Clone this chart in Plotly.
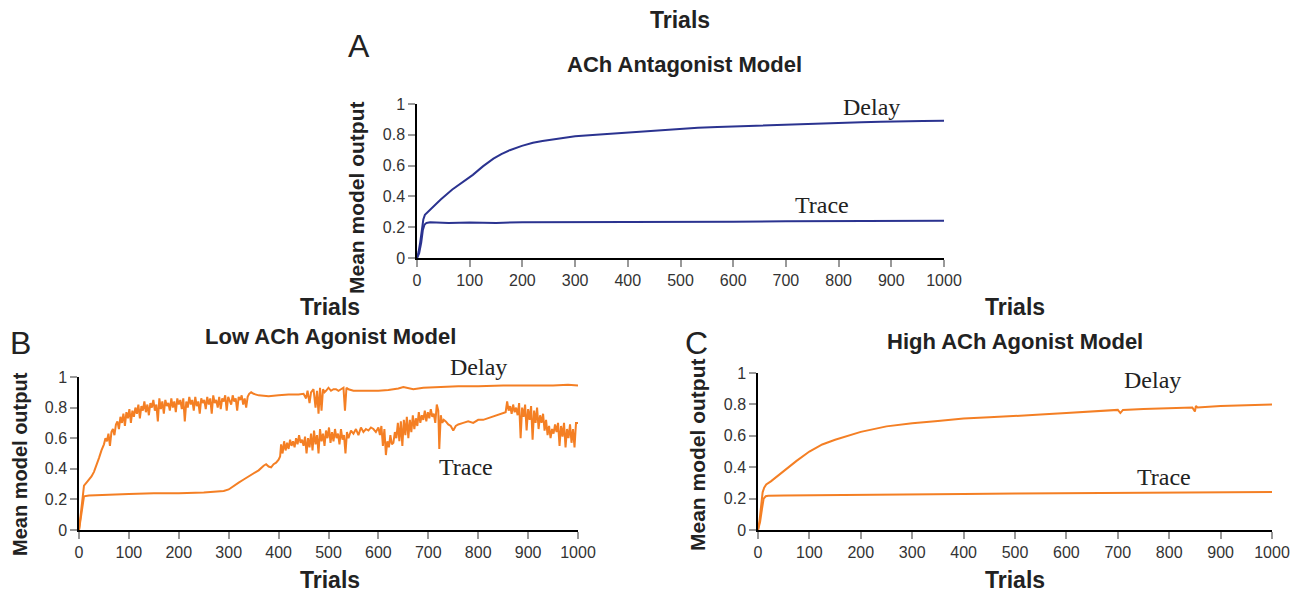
import plotly.graph_objects as go

W, H = 1300, 592
OFF = 8  # page body margin that shifts the figure inside the browser window

# ---------------- Data ----------------
ticks_x = [0, 100, 200, 300, 400, 500, 600, 700, 800, 900, 1000]
ticks_y = [0, 0.2, 0.4, 0.6, 0.8, 1]
tick_y_text = ["0", "0.2", "0.4", "0.6", "0.8", "1"]

# Panel A: ACh Antagonist Model
a_delay_x = [0, 3, 6, 9, 12, 15, 21, 30, 45, 67, 85, 106, 125, 145, 160, 176, 199, 220, 238, 270, 300, 340, 378, 420, 455, 500, 533, 570, 610, 650, 688, 730, 766, 800, 843, 880, 921, 960, 1000]
a_delay_y = [0, 0.04, 0.10, 0.18, 0.25, 0.28, 0.30, 0.33, 0.38, 0.445, 0.49, 0.54, 0.595, 0.645, 0.675, 0.70, 0.728, 0.748, 0.76, 0.777, 0.79, 0.80, 0.81, 0.82, 0.83, 0.84, 0.846, 0.85, 0.855, 0.86, 0.866, 0.87, 0.875, 0.878, 0.881, 0.885, 0.89, 0.89, 0.892]
a_trace_x = [0, 4, 8, 11, 14, 18, 25, 60, 100, 150, 200, 300, 400, 500, 600, 700, 800, 900, 1000]
a_trace_y = [0, 0.03, 0.10, 0.18, 0.215, 0.228, 0.232, 0.228, 0.231, 0.228, 0.232, 0.232, 0.234, 0.235, 0.236, 0.238, 0.239, 0.241, 0.242]

# Panel B: Low ACh Agonist Model
b_delay_x = [0, 3, 6, 10, 15, 20, 25, 30, 35, 40, 45, 50, 53, 56, 59, 62, 65, 68, 71, 74, 77, 80, 83, 86, 89, 92, 95, 98,
             101, 104, 107, 110, 113, 116, 119, 122, 125, 128, 131, 134, 137, 140, 143, 146, 149, 152, 155, 158, 161, 164,
             167, 170, 173, 176, 179, 182, 185, 188, 191, 194, 197, 200, 203, 206, 209, 212, 215, 218, 221, 224, 227, 230,
             233, 236, 239, 242, 245, 248, 251, 254, 257, 260, 263, 266, 269, 272, 275, 278, 281, 284, 287, 290, 293, 296,
             299, 302, 305, 308, 311, 314, 317, 320, 323, 326, 329, 332, 335, 338, 341, 345, 350, 360, 380, 400, 420, 440,
             450, 455, 458, 462, 465, 470, 474, 477, 480, 483, 486, 489, 492, 495, 500, 505, 510, 515, 520, 525, 530, 533,
             536, 540, 550, 570, 600, 620, 640, 650, 660, 670, 690, 720, 760, 800, 850, 900, 950, 980, 1000]
b_delay_y = [0.00, 0.10, 0.20, 0.29, 0.31, 0.33, 0.35, 0.38, 0.42, 0.47, 0.52, 0.56, 0.60, 0.58, 0.63, 0.55, 0.64, 0.66, 0.62,
             0.69, 0.71, 0.66, 0.74, 0.70, 0.76, 0.68, 0.77, 0.73, 0.79, 0.70, 0.78, 0.74, 0.80, 0.76, 0.82, 0.73, 0.81, 0.78,
             0.84, 0.77, 0.82, 0.75, 0.83, 0.80, 0.85, 0.78, 0.82, 0.71, 0.86, 0.79, 0.84, 0.76, 0.85, 0.81, 0.83, 0.78, 0.86,
             0.80, 0.84, 0.77, 0.86, 0.82, 0.85, 0.79, 0.86, 0.71, 0.84, 0.80, 0.87, 0.82, 0.85, 0.78, 0.87, 0.81, 0.84, 0.76,
             0.86, 0.83, 0.85, 0.79, 0.87, 0.82, 0.86, 0.76, 0.88, 0.83, 0.85, 0.80, 0.87, 0.79, 0.86, 0.84, 0.88, 0.78, 0.87,
             0.85, 0.82, 0.88, 0.84, 0.86, 0.78, 0.87, 0.85, 0.88, 0.82, 0.86, 0.80, 0.87, 0.89, 0.90, 0.89, 0.88, 0.875, 0.88,
             0.885, 0.885, 0.89, 0.86, 0.91, 0.83, 0.90, 0.92, 0.80, 0.91, 0.76, 0.93, 0.78, 0.92, 0.90, 0.91, 0.93, 0.91, 0.92,
             0.92, 0.91, 0.92, 0.93, 0.78, 0.93, 0.92, 0.91, 0.91, 0.91, 0.915, 0.925, 0.935, 0.925, 0.92, 0.93, 0.935, 0.94,
             0.94, 0.945, 0.945, 0.945, 0.95, 0.945]
b_trace_x = [0, 5, 10, 20, 50, 100, 150, 200, 250, 280, 290, 300, 310, 320, 330, 340, 350, 360, 370, 375, 380, 385, 390, 395,
             400, 403, 405, 408, 411, 414, 417, 420, 423, 426, 429, 432, 435, 438, 441, 444, 447, 450, 453, 456, 459, 462,
             465, 468, 471, 474, 477, 480, 483, 486, 489, 492, 495, 498, 501, 504, 507, 510, 513, 516, 519, 522, 525, 528,
             531, 534, 537, 540, 545, 550, 555, 560, 565, 570, 575, 580, 585, 590, 595, 600, 603, 606, 609, 612, 615, 618,
             621, 624, 627, 630, 633, 636, 639, 642, 645, 648, 651, 654, 657, 660, 663, 666, 669, 672, 675, 678, 681, 684,
             687, 690, 693, 696, 699, 702, 705, 708, 711, 714, 717, 720, 722, 725, 728, 731, 735, 740, 745, 750, 755, 760,
             770, 780, 790, 800, 810, 820, 830, 840, 850, 855, 858, 861, 864, 867, 870, 873, 876, 879, 882, 885, 888, 891,
             894, 897, 900, 903, 906, 909, 912, 915, 918, 921, 924, 927, 930, 933, 936, 939, 942, 945, 948, 951, 954, 957,
             960, 963, 966, 969, 972, 975, 978, 981, 984, 987, 990, 993, 996, 1000]
b_trace_y = [0, 0.12, 0.22, 0.225, 0.23, 0.235, 0.24, 0.24, 0.245, 0.25, 0.255, 0.265, 0.29, 0.31, 0.33, 0.35, 0.37, 0.39,
             0.42, 0.43, 0.415, 0.41, 0.43, 0.44, 0.46, 0.48, 0.56, 0.50, 0.58, 0.52, 0.57, 0.53, 0.59, 0.55, 0.58, 0.54,
             0.60, 0.56, 0.62, 0.57, 0.59, 0.55, 0.61, 0.50, 0.60, 0.54, 0.63, 0.52, 0.65, 0.56, 0.62, 0.50, 0.66, 0.58,
             0.63, 0.55, 0.65, 0.60, 0.67, 0.57, 0.64, 0.58, 0.66, 0.60, 0.63, 0.56, 0.66, 0.59, 0.62, 0.50, 0.64, 0.60,
             0.65, 0.63, 0.66, 0.62, 0.67, 0.64, 0.66, 0.65, 0.67, 0.66, 0.64, 0.67, 0.62, 0.68, 0.55, 0.66, 0.49, 0.58,
             0.54, 0.62, 0.56, 0.57, 0.64, 0.60, 0.70, 0.58, 0.71, 0.55, 0.72, 0.62, 0.74, 0.60, 0.72, 0.64, 0.75, 0.66,
             0.73, 0.68, 0.77, 0.70, 0.75, 0.72, 0.78, 0.71, 0.77, 0.73, 0.79, 0.74, 0.76, 0.70, 0.82, 0.78, 0.53, 0.75,
             0.70, 0.72, 0.71, 0.69, 0.68, 0.65, 0.68, 0.69, 0.70, 0.71, 0.70, 0.72, 0.72, 0.73, 0.74, 0.75, 0.76, 0.77,
             0.84, 0.78, 0.81, 0.76, 0.82, 0.77, 0.80, 0.75, 0.83, 0.60, 0.80, 0.74, 0.82, 0.65, 0.79, 0.72, 0.81, 0.59,
             0.78, 0.70, 0.80, 0.66, 0.75, 0.70, 0.76, 0.65, 0.72, 0.62, 0.68, 0.60, 0.66, 0.63, 0.69, 0.64, 0.70, 0.55,
             0.68, 0.61, 0.70, 0.54, 0.66, 0.60, 0.69, 0.57, 0.66, 0.54, 0.70, 0.70]

# Panel C: High ACh Agonist Model
c_delay_x = [0, 3, 6, 9, 12, 16, 25, 40, 55, 75, 100, 125, 150, 175, 200, 250, 300, 350, 400, 450, 500, 550, 600, 650, 700, 705, 710, 750, 800, 845, 850, 852, 855, 900, 950, 1000]
c_delay_y = [0, 0.06, 0.15, 0.24, 0.27, 0.29, 0.31, 0.35, 0.39, 0.44, 0.50, 0.545, 0.575, 0.60, 0.625, 0.66, 0.68, 0.695, 0.71, 0.718, 0.725, 0.735, 0.745, 0.755, 0.765, 0.745, 0.765, 0.77, 0.775, 0.78, 0.755, 0.79, 0.78, 0.79, 0.795, 0.80]
c_trace_x = [0, 4, 8, 11, 15, 20, 50, 100, 200, 300, 400, 500, 600, 700, 800, 900, 1000]
c_trace_y = [0, 0.05, 0.14, 0.20, 0.215, 0.218, 0.22, 0.222, 0.225, 0.228, 0.23, 0.232, 0.234, 0.236, 0.238, 0.24, 0.242]

BLUE = "#2b3390"
ORANGE = "#f47f24"

# --------------- Figure ---------------
fig = go.Figure()
fig.add_trace(go.Scatter(x=a_delay_x, y=a_delay_y, mode="lines", line=dict(color=BLUE, width=2), xaxis="x", yaxis="y"))
fig.add_trace(go.Scatter(x=a_trace_x, y=a_trace_y, mode="lines", line=dict(color=BLUE, width=2), xaxis="x", yaxis="y"))
fig.add_trace(go.Scatter(x=b_delay_x, y=b_delay_y, mode="lines", line=dict(color=ORANGE, width=2), xaxis="x2", yaxis="y2"))
fig.add_trace(go.Scatter(x=b_trace_x, y=b_trace_y, mode="lines", line=dict(color=ORANGE, width=2), xaxis="x2", yaxis="y2"))
fig.add_trace(go.Scatter(x=c_delay_x, y=c_delay_y, mode="lines", line=dict(color=ORANGE, width=2), xaxis="x3", yaxis="y3"))
fig.add_trace(go.Scatter(x=c_trace_x, y=c_trace_y, mode="lines", line=dict(color=ORANGE, width=2), xaxis="x3", yaxis="y3"))

TICKFONT = dict(family="Liberation Sans, Arial", size=16, color="#333333")


def xax(domain, anchor):
    return dict(domain=domain, anchor=anchor, range=[0, 1000], tickvals=ticks_x, showgrid=False, zeroline=False,
                showline=True, linecolor="black", linewidth=1.5, ticks="outside", ticklen=7, tickcolor="#999999",
                tickwidth=1.5, tickfont=TICKFONT, fixedrange=True, automargin=False)


def yax(domain, anchor):
    return dict(domain=domain, anchor=anchor, range=[0, 1], tickvals=ticks_y, ticktext=tick_y_text, showgrid=False,
                zeroline=False, showline=True, linecolor="black", linewidth=1.5, ticks="outside", ticklen=7,
                tickcolor="#999999", tickwidth=1.5, tickfont=TICKFONT, fixedrange=True, automargin=False)


def px(x):
    return (x - OFF) / W


def py(y):
    return 1 - (y - OFF) / H


fig.update_layout(
    template="none",
    width=W, height=H, margin=dict(l=0, r=0, t=0, b=0, pad=0), autosize=False,
    paper_bgcolor="white", plot_bgcolor="white", showlegend=False,
    xaxis=xax([px(417), px(944)], "y"), yaxis=yax([py(258), py(104)], "x"),
    xaxis2=xax([px(79), px(578)], "y2"), yaxis2=yax([py(530), py(377)], "x2"),
    xaxis3=xax([px(758), px(1272)], "y3"), yaxis3=yax([py(530), py(373)], "x3"),
)

BOLD = "Liberation Sans, Arial"
anns = [
    # Panel A
    dict(x=680, y=20, text="<b>Trials</b>", size=23),
    dict(x=359, y=46, text="A", size=32),
    dict(x=684, y=65, text="<b>ACh Antagonist Model</b>", size=22),
    dict(x=356, y=198, text="<b>Mean model output</b>", size=21, angle=-90),
    # Panel B
    dict(x=330, y=307, text="<b>Trials</b>", size=23),
    dict(x=20, y=343, text="B", size=32),
    dict(x=330, y=336, text="<b>Low ACh Agonist Model</b>", size=22),
    dict(x=20, y=464, text="<b>Mean model output</b>", size=20, angle=-90),
    dict(x=330, y=580, text="<b>Trials</b>", size=23),
    # Panel C
    dict(x=1015, y=307, text="<b>Trials</b>", size=23),
    dict(x=696, y=343, text="C", size=32),
    dict(x=1015, y=341, text="<b>High ACh Agonist Model</b>", size=22),
    dict(x=697, y=455, text="<b>Mean model output</b>", size=21, angle=-90),
    dict(x=1015, y=580, text="<b>Trials</b>", size=23),
]
for a in anns:
    fig.add_annotation(x=px(a["x"]), y=py(a["y"]), xref="paper", yref="paper", text=a["text"], showarrow=False,
                       xanchor="center", yanchor="middle", textangle=a.get("angle", 0),
                       font=dict(family=BOLD, size=a["size"], color="#222222"))

SERIF = dict(family="Liberation Serif, Times New Roman", size=24, color="#222222")
labels = [
    ("x", "y", 862, 0.98, "Delay"),
    ("x", "y", 768, 0.344, "Trace"),
    ("x2", "y2", 800, 0.995, "Delay"),
    ("x2", "y2", 776, 0.41, "Trace"),
    ("x3", "y3", 768, 0.955, "Delay"),
    ("x3", "y3", 790, 0.338, "Trace"),
]
for xr, yr, xv, yv, t in labels:
    # B's "Delay" sits just above the top of its axis; anchor it at the bottom so it stays inside the range
    ya = "bottom" if yv > 0.99 else "middle"
    fig.add_annotation(x=xv, y=yv, xref=xr, yref=yr, text=t, showarrow=False, xanchor="center", yanchor=ya,
                       font=SERIF, yshift=-4 if ya == "bottom" else 0)

fig.write_html("out.html")
